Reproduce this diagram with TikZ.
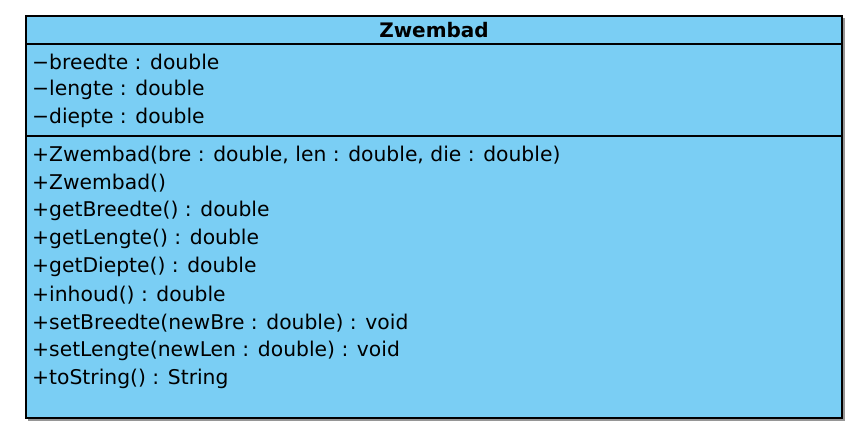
\documentclass[tikz,border=0pt]{standalone}
\usepackage{fontspec}
\setmainfont{DejaVu Sans}
\definecolor{umlfill}{RGB}{122,206,244}
\definecolor{shadowgray}{RGB}{150,150,150}
\begin{document}
\begin{tikzpicture}[x=1pt,y=-1pt,
  member/.style={anchor=west,inner sep=0pt,font=\fontsize{20.3}{20}\selectfont},
  title/.style={inner sep=0pt,font=\fontsize{20}{20}\selectfont\bfseries}]
\useasboundingbox (0,0) rectangle (866,442);
\fill[white] (0,0) rectangle (866,442);
\draw[shadowgray,line width=1.5pt] (844,18) -- (844,420) -- (28,420);
\draw[fill=umlfill,line width=1.3pt] (26,16) rectangle (842,418);
\draw[line width=1.3pt] (26,44) -- (842,44);
\draw[line width=1.3pt] (26,136) -- (842,136);
\node[title] (t) at (434,30) {Zwembad};
\node[member] (a1) at (32,62) {−breedte : double};
\node[member] (a2) at (32,90) {−lengte : double};
\node[member] (a3) at (32,118) {−diepte : double};
\node[member] (m1) at (32,155) {+Zwembad(bre : double, len : double, die : double)};
\node[member] (m2) at (32,183) {+Zwembad()};
\node[member] (m3) at (32,211) {+getBreedte() : double};
\node[member] (m4) at (32,239) {+getLengte() : double};
\node[member] (m5) at (32,267) {+getDiepte() : double};
\node[member] (m6) at (32,295) {+inhoud() : double};
\node[member] (m7) at (32,323) {+setBreedte(newBre : double) : void};
\node[member] (m8) at (32,351) {+setLengte(newLen : double) : void};
\node[member] (m9) at (32,379) {+toString() : String};
\end{tikzpicture}
\end{document}
